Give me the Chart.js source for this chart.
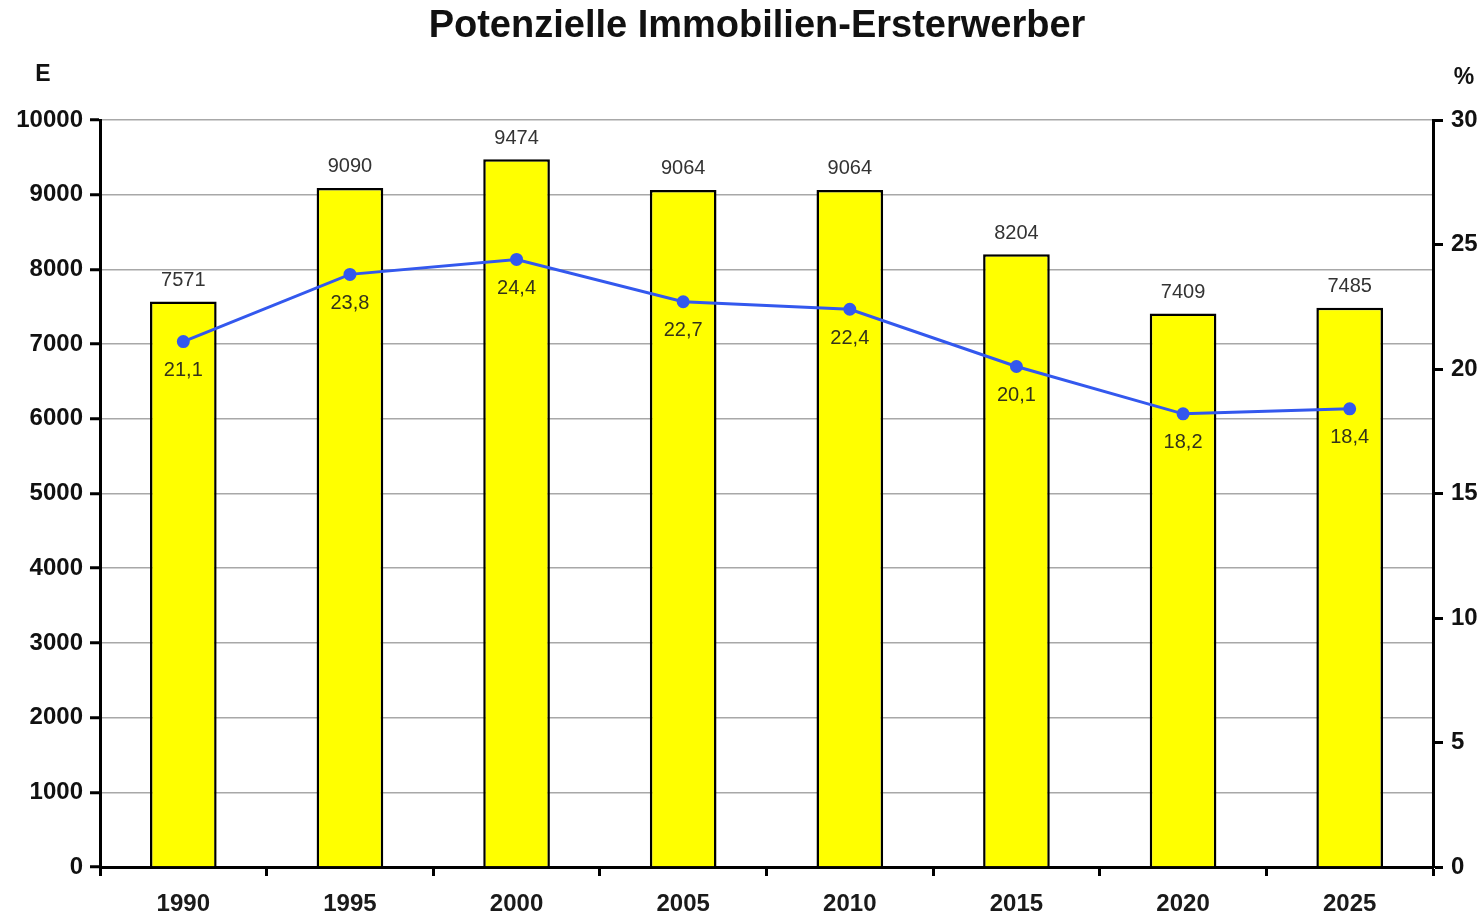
<!DOCTYPE html>
<html>
<head>
<meta charset="utf-8">
<script src="https://cdn.jsdelivr.net/npm/chart.js@4.4.1/dist/chart.umd.min.js"></script>
<style>
html,body{margin:0;padding:0;background:#fff;}
#wrap{width:1484px;height:915px;position:relative;}
</style>
</head>
<body>
<div id="wrap"><canvas id="c"></canvas></div>
<script>
const categories = ['1990','1995','2000','2005','2010','2015','2020','2025'];
const buyers = [7571, 9090, 9474, 9064, 9064, 8204, 7409, 7485];
const shares = [21.1, 23.8, 24.4, 22.7, 22.4, 20.1, 18.2, 18.4];
const titleText = 'Potenzielle Immobilien-Ersterwerber';
const leftUnit = 'E';
const rightUnit = '%';

const FONT = '"Liberation Sans", Arial, sans-serif';

const labelPlugin = {
  id: 'labels',
  afterDatasetsDraw(chart) {
    const ctx = chart.ctx;
    ctx.save();
    ctx.textAlign = 'center';
    ctx.textBaseline = 'middle';
    const barMeta = chart.getDatasetMeta(1);
    ctx.font = '20px ' + FONT;
    ctx.fillStyle = '#333';
    barMeta.data.forEach((el, i) => {
      ctx.fillText(String(buyers[i]), el.x, el.y - 21);
    });
    const lineMeta = chart.getDatasetMeta(0);
    ctx.fillStyle = '#33331a';
    lineMeta.data.forEach((el, i) => {
      ctx.fillText(shares[i].toFixed(1).replace('.', ','), el.x, el.y + 29);
    });
    ctx.restore();
  },
  afterDraw(chart) {
    const ctx = chart.ctx;
    ctx.save();
    ctx.fillStyle = '#111';
    ctx.textAlign = 'center';
    ctx.textBaseline = 'middle';
    ctx.font = 'bold 38px ' + FONT;
    ctx.fillText(titleText, 757, 27);
    ctx.font = 'bold 23px ' + FONT;
    ctx.fillText(leftUnit, 43, 75);
    ctx.fillText(rightUnit, 1464, 78);
    ctx.restore();
  }
};

const tickFont = { family: FONT, size: 24, weight: 'bold' };

new Chart(document.getElementById('c'), {
  data: {
    labels: categories,
    datasets: [
      {
        type: 'line',
        data: shares,
        yAxisID: 'y1',
        borderColor: '#3358ee',
        backgroundColor: '#3358ee',
        borderWidth: 3,
        pointRadius: 5,
        pointHoverRadius: 5,
        tension: 0,
        order: 0
      },
      {
        type: 'bar',
        data: buyers,
        yAxisID: 'y',
        backgroundColor: '#ffff00',
        borderColor: '#000',
        borderWidth: 2.5,
        barPercentage: 0.4,
        categoryPercentage: 1,
        order: 1
      }
    ]
  },
  options: {
    responsive: true,
    maintainAspectRatio: false,
    animation: false,
    events: [],
    layout: { padding: { top: 120, left: 0, right: 0, bottom: 0 } },
    plugins: {
      legend: { display: false },
      title: { display: false },
      tooltip: { enabled: false }
    },
    scales: {
      x: {
        offset: true,
        grid: { offset: true, drawOnChartArea: false, drawTicks: true, tickLength: 9, tickColor: '#000', tickWidth: 3 },
        border: { display: true, color: '#000', width: 3 },
        ticks: { color: '#1a1a1a', font: tickFont, padding: 14 },
        afterFit(s) { s.height = 48; }
      },
      y: {
        position: 'left',
        min: 0, max: 10000,
        ticks: { stepSize: 1000, color: '#111', font: tickFont, padding: 7, callback: v => String(v) },
        grid: { color: '#a8a8a8', lineWidth: 1.5, tickColor: '#000', tickLength: 10, tickWidth: 3 },
        border: { display: true, color: '#000', width: 3 },
        afterFit(s) { s.width = 100; }
      },
      y1: {
        position: 'right',
        min: 0, max: 30,
        ticks: { stepSize: 5, color: '#111', font: tickFont, padding: 8, callback: v => String(v) },
        grid: { drawOnChartArea: false, tickColor: '#000', tickLength: 10, tickWidth: 3 },
        border: { display: true, color: '#000', width: 3 },
        afterFit(s) { s.width = 51; }
      }
    }
  },
  plugins: [labelPlugin]
});
</script>
</body>
</html>
